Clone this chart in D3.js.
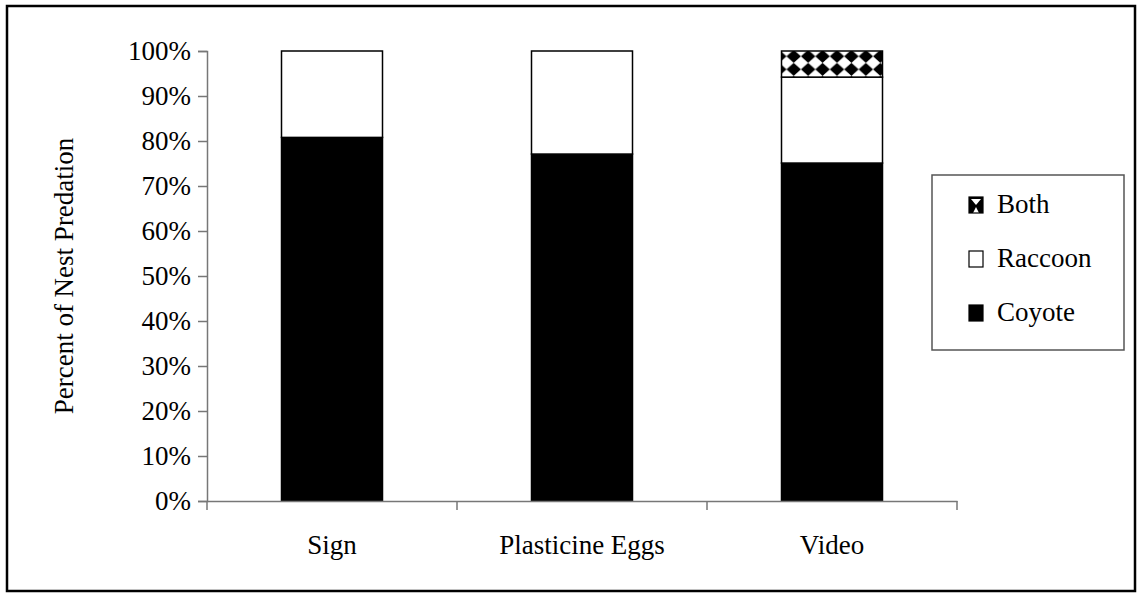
<!DOCTYPE html>
<html>
<head>
<meta charset="utf-8">
<script src="https://cdn.jsdelivr.net/npm/d3@7"></script>
<style>
  body { margin: 0; background: #fff; }
  svg { display: block; font-family: 'Liberation Serif', 'Times New Roman', serif; }
</style>
</head>
<body>
<svg id="chart" width="1139" height="596"></svg>
<script>
// data (percent of nest predation)
var categories = ['Sign', 'Plasticine Eggs', 'Video']
var coyote = [80.8, 77.1, 75.1]
var raccoon = [19.2, 22.9, 19.1]
var both = [0, 0, 5.8]
var seriesNames = ['Coyote', 'Raccoon', 'Both']
var yTicks = [0, 10, 20, 30, 40, 50, 60, 70, 80, 90, 100]

var FONT = "'Liberation Serif', 'Times New Roman', serif"
var FS = 27

var svg = d3.select('#chart')

var margin = { top: 51, left: 207, right: 182, bottom: 95 }
var width = 1139 - margin.left - margin.right
var height = 596 - margin.top - margin.bottom

// outer frame
svg.append('rect')
  .attr('x', 7).attr('y', 6)
  .attr('width', 1128).attr('height', 585)
  .attr('fill', 'none').attr('stroke', '#000').attr('stroke-width', 2.5)

var g = svg.append('g').attr('transform', 'translate(' + margin.left + ',' + margin.top + ')')

var x = d3.scaleBand().domain(categories).range([0, width]).padding(0)
var y = d3.scaleLinear().domain([0, 100]).range([height, 0])
var barW = x.bandwidth() * 0.404

var rows = categories.map(function (c, i) {
  return { cat: c, Coyote: coyote[i], Raccoon: raccoon[i], Both: both[i] }
})
var stacked = d3.stack().keys(seriesNames)(rows)

// checker of diamonds for "Both", anchored to the top of the Video bar
var defs = svg.append('defs')
var vi = categories.indexOf('Video')
var tileW = barW / 7
var tileH = (y(coyote[vi] + raccoon[vi]) - y(100)) / 2
var pat = defs.append('pattern')
  .attr('id', 'diam').attr('patternUnits', 'userSpaceOnUse')
  .attr('width', tileW).attr('height', tileH)
  .attr('x', margin.left + x('Video') + (x.bandwidth() - barW) / 2)
  .attr('y', margin.top + y(100))
pat.append('rect').attr('width', tileW).attr('height', tileH).attr('fill', '#fff')
pat.append('path')
  .attr('d', 'M' + tileW / 2 + ',0 L' + tileW + ',' + tileH / 2 + ' L' + tileW / 2 + ',' + tileH + ' L0,' + tileH / 2 + ' Z')
  .attr('fill', '#000')

var legPat = defs.append('pattern')
  .attr('id', 'legdiam').attr('patternUnits', 'objectBoundingBox')
  .attr('width', 1).attr('height', 1)
legPat.append('rect').attr('width', 14).attr('height', 16).attr('fill', '#000')
legPat.append('path').attr('d', 'M2,2 L12,2 L7,8 Z').attr('fill', '#fff')
legPat.append('path').attr('d', 'M4,16 L7,10 L10,16 Z').attr('fill', '#fff')

var fills = { Coyote: '#000', Raccoon: '#fff', Both: 'url(#diam)' }

// y axis
var yAxis = g.append('g')
  .call(d3.axisLeft(y).tickValues(yTicks).tickSize(9).tickPadding(7)
    .tickFormat(function (d) { return d + '%' }))
yAxis.select('.domain').attr('stroke', '#777').attr('stroke-width', 1.5)
yAxis.selectAll('.tick line').attr('stroke', '#777').attr('stroke-width', 1.5)
yAxis.selectAll('text').attr('font-size', FS).attr('fill', '#000')
  .attr('font-family', FONT)

// bars
g.selectAll('g.series')
  .data(stacked)
  .enter()
  .append('g')
  .attr('class', 'series')
  .attr('fill', function (d) { return fills[d.key] })
  .selectAll('rect')
  .data(function (d) { return d.filter(function (v) { return v[1] - v[0] > 0 }) })
  .enter()
  .append('rect')
  .attr('x', function (d) { return x(d.data.cat) + (x.bandwidth() - barW) / 2 })
  .attr('y', function (d) { return y(d[1]) })
  .attr('width', barW)
  .attr('height', function (d) { return y(d[0]) - y(d[1]) })
  .attr('stroke', '#000')
  .attr('stroke-width', 1.5)

// x axis
var xAxis = g.append('g').attr('transform', 'translate(0,' + height + ')')
  .call(d3.axisBottom(x).tickSize(0).tickPadding(34))
xAxis.select('.domain').attr('stroke', '#777').attr('stroke-width', 1.5)
xAxis.selectAll('text').attr('font-size', FS).attr('fill', '#000')
  .attr('font-family', FONT)
// category boundary ticks
var bounds = categories.map(function (c) { return x(c) }).concat([x.range()[1]])
xAxis.selectAll('line.bound').data(bounds).enter().append('line')
  .attr('class', 'bound')
  .attr('x1', function (d) { return d }).attr('x2', function (d) { return d })
  .attr('y1', 0).attr('y2', 9)
  .attr('stroke', '#777').attr('stroke-width', 1.5)

// y title
svg.append('text')
  .attr('transform', 'translate(73,' + (margin.top + height / 2) + ') rotate(-90)')
  .attr('text-anchor', 'middle')
  .attr('font-size', FS)
  .text('Percent of Nest Predation')

// legend
var leg = svg.append('g').attr('transform', 'translate(932,175)')
leg.append('rect').attr('width', 192).attr('height', 175)
  .attr('fill', '#fff').attr('stroke', '#555').attr('stroke-width', 1.5)
var legItems = ['Both', 'Raccoon', 'Coyote']
var legFill = { Both: 'url(#legdiam)', Raccoon: '#fff', Coyote: '#000' }
legItems.forEach(function (name, i) {
  var row = leg.append('g').attr('transform', 'translate(37,' + (38 + i * 54) + ')')
  row.append('rect').attr('width', 14).attr('height', 16).attr('y', -16)
    .attr('fill', legFill[name]).attr('stroke', '#000').attr('stroke-width', 1.2)
  row.append('text').attr('x', 28).attr('y', 0)
    .attr('font-size', FS).text(name)
})
</script>
</body>
</html>
